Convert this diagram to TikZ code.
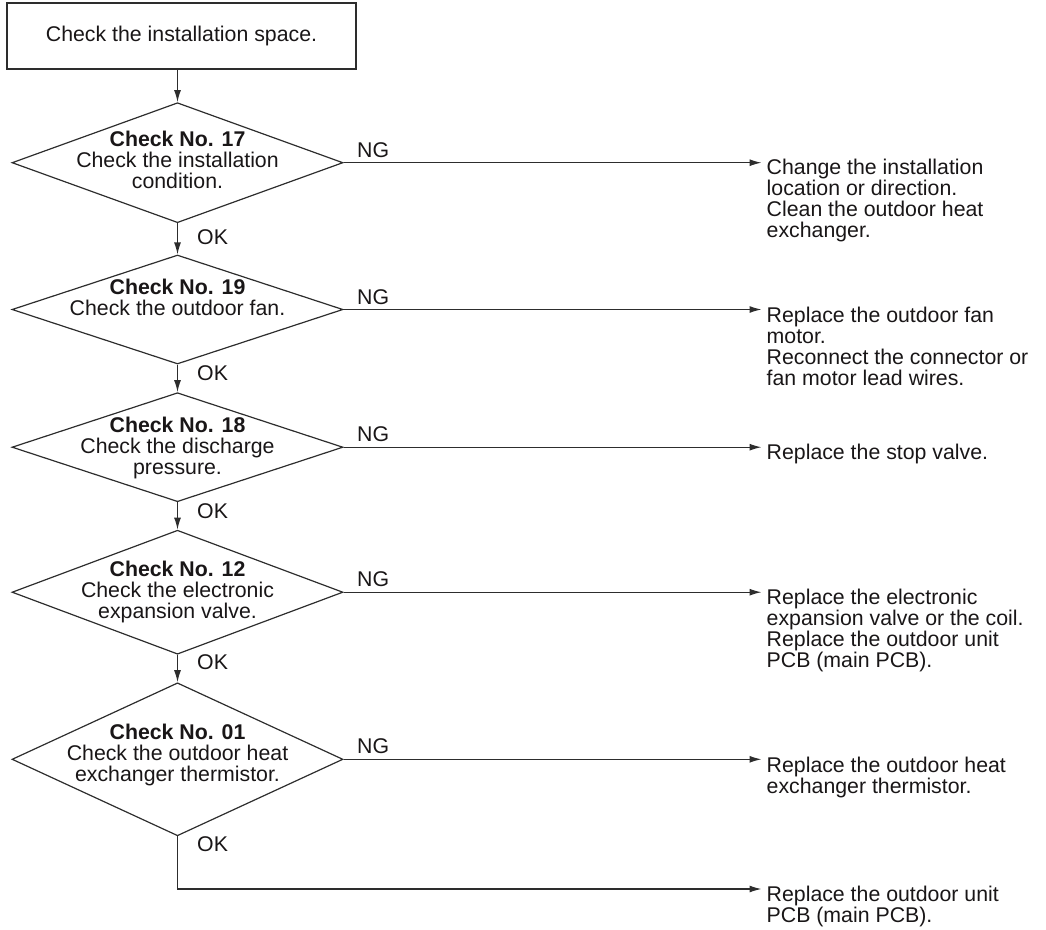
\documentclass[tikz,border=0pt]{standalone}
\usepackage{fontspec}
\setmainfont{Liberation Sans}
\usepackage{tikz}
\usetikzlibrary{arrows.meta,shapes.geometric}
\definecolor{linegray}{RGB}{45,45,45}
\definecolor{textgray}{RGB}{25,22,23}

\begin{document}
\begin{tikzpicture}[x=1pt, y=-1pt, >={Latex[length=12pt,width=7pt]},
    every node/.style={font=\fontsize{21.3}{21}\selectfont, text=textgray, inner sep=0pt},
    startbox/.style={draw=linegray, line width=1.2pt, minimum width=349pt, minimum height=66pt},
    decision/.style={diamond, draw=linegray, line width=1.2pt, minimum width=331pt},
    remedy/.style={anchor=north west, align=left, inner xsep=5pt},
    flow/.style={linegray, line width=1.2pt, ->}]
    \useasboundingbox (0,0) rectangle (1046,929);
    % Start box
    \node[startbox] (space) at (181.5,36) {Check the installation space.};
    % Check diamonds
    \node[decision, minimum height=120pt] (c17) at (177.5,162.7) {};
    \node[decision, minimum height=109pt] (c19) at (177.5,309.5) {};
    \node[decision, minimum height=109pt] (c18) at (177.5,447.2) {};
    \node[decision, minimum height=124pt] (c12) at (177.5,592.2) {};
    \node[decision, minimum height=153pt] (c01) at (177.5,759.3) {};
    \node[anchor=north, align=center] (t17) at (177.5,130.5) {\textbf{Check No. 17}\\Check the installation\\condition.};
    \node[anchor=north, align=center] (t19) at (177.5,278.8) {\textbf{Check No. 19}\\Check the outdoor fan.};
    \node[anchor=north, align=center] (t18) at (177.5,417.2) {\textbf{Check No. 18}\\Check the discharge\\pressure.};
    \node[anchor=north, align=center] (t12) at (177.5,560.5) {\textbf{Check No. 12}\\Check the electronic\\expansion valve.};
    \node[anchor=north, align=center] (t01) at (177.5,723.8) {\textbf{Check No. 01}\\Check the outdoor heat\\exchanger thermistor.};
    % Remedies
    \node[remedy] (r17) at (761.5,158.8) {Change the installation\\location or direction.\\Clean the outdoor heat\\exchanger.};
    \node[remedy] (r19) at (761.5,307.1) {Replace the outdoor fan\\motor.\\Reconnect the connector or\\fan motor lead wires.};
    \node[remedy] (r18) at (761.5,444.3) {Replace the stop valve.};
    \node[remedy] (r12) at (761.5,589.1) {Replace the electronic\\expansion valve or the coil.\\Replace the outdoor unit\\PCB (main PCB).};
    \node[remedy] (r01) at (761.5,757.3) {Replace the outdoor heat\\exchanger thermistor.};
    \node[remedy] (rpcb) at (761.5,885.5) {Replace the outdoor unit\\PCB (main PCB).};
    \coordinate (bend) at (177.5,889);
    % OK path
    \draw[flow] (space.south -| c17.north) -- (c17.north);
    \draw[flow] (c17.south) -- (c19.north);
    \draw[flow] (c19.south) -- (c18.north);
    \draw[flow] (c18.south) -- (c12.north);
    \draw[flow] (c12.south) -- (c01.north);
    \draw[flow] (c01.south) -- (bend) -- (bend -| rpcb.west);
    \node[anchor=base west] (ok17) at (197,244) {OK};
    \node[anchor=base west] (ok19) at (197,380.7) {OK};
    \node[anchor=base west] (ok18) at (197,518.3) {OK};
    \node[anchor=base west] (ok12) at (197,669.3) {OK};
    \node[anchor=base west] (ok01) at (197,851.7) {OK};
    % NG path
    \draw[flow] (c17.east) -- (c17.east -| r17.west);
    \draw[flow] (c19.east) -- (c19.east -| r19.west);
    \draw[flow] (c18.east) -- (c18.east -| r18.west);
    \draw[flow] (c12.east) -- (c12.east -| r12.west);
    \draw[flow] (c01.east) -- (c01.east -| r01.west);
    \node[anchor=base west] (ng17) at (357,157.5) {NG};
    \node[anchor=base west] (ng19) at (357,304) {NG};
    \node[anchor=base west] (ng18) at (357,441.7) {NG};
    \node[anchor=base west] (ng12) at (357,586.7) {NG};
    \node[anchor=base west] (ng01) at (357,753.8) {NG};
\end{tikzpicture}
\end{document}
